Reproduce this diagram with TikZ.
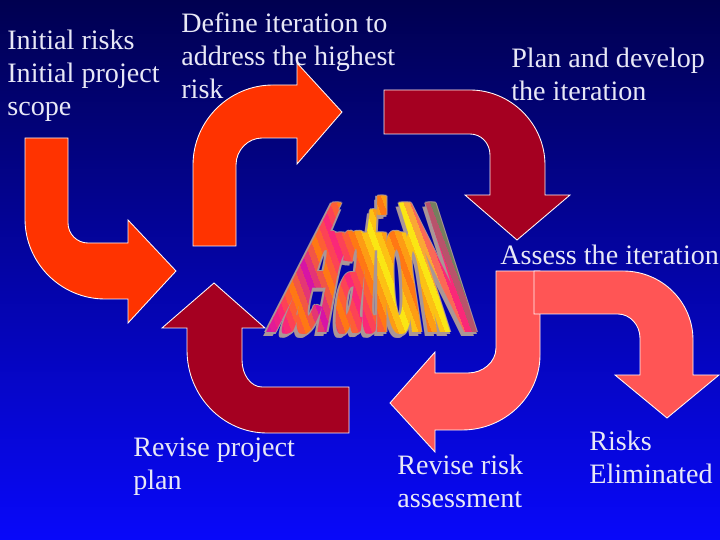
\documentclass[tikz,border=0pt]{standalone}
\usepackage{fontspec}
\setmainfont{Liberation Serif}
\newfontfamily\artfont{Liberation Sans}

\definecolor{bgtop}{RGB}{0,0,80}
\definecolor{bgbottom}{RGB}{8,8,250}
\definecolor{redorange}{RGB}{255,51,0}
\definecolor{crimson}{RGB}{165,0,33}
\definecolor{salmon}{RGB}{255,85,85}
\definecolor{slidewhite}{RGB}{232,232,246}
\definecolor{artshadow}{RGB}{170,150,150}
\definecolor{artmagenta}{RGB}{215,20,165}
\definecolor{artpink}{RGB}{250,40,120}
\definecolor{artorange}{RGB}{255,120,20}
\definecolor{artyellow}{RGB}{250,230,20}
\definecolor{artgreen}{RGB}{50,170,80}
\definecolor{artblue}{RGB}{60,60,220}

\tikzset{
  slidetext/.style={anchor=north west, inner sep=0pt, align=left,
    text=slidewhite, font=\fontsize{16}{18.8}\selectfont},
  bentarrow/.style={draw=white!85!pink, line width=0.5pt},
  artglyph/.style={anchor=base, inner sep=0pt, yscale=10.7,
    font=\fontsize{10}{12}\artfont\bfseries}
}

% word art letters: x/slant/xscale/letter
\newcommand\artglyphs{271/0.51/2.6/I, 285/0.42/2.6/t, 304/0.27/2.6/e,
  325/0.19/2.6/r, 347/0.12/2.6/a, 368/0.05/2.6/t, 382/0.0/2.6/i,
  401/-0.05/2.6/o, 425/-0.15/2.6/n, 459/-0.32/3.3/N}

% the letters of the word art, in one colour
\newcommand\artword[1]{%
  \foreach \x/\s/\w/\c in \artglyphs
    \foreach \e in {-0.8,0,0.8}
      \node[xshift=\e pt, xslant=\s, xscale=\w, artglyph, text=#1] at (\x,333) {\c};}

\begin{document}
\begin{tikzpicture}[x=0.02cm, y=-0.02cm]
  \useasboundingbox (0,0) rectangle (720,540);

  % Background
  \shade[top color=bgtop, bottom color=bgbottom] (0,0) rectangle (720,540);

  % Step texts
  \node[slidetext] (initial) at (7,30) {Initial risks\\Initial project\\scope};
  \node[slidetext] (define) at (181,12) {Define iteration to\\address the highest\\risk};
  \node[slidetext] (plan) at (511,48) {Plan and develop\\the iteration};
  \node[slidetext] (assess) at (500,245) {Assess the iteration};
  \node[slidetext] (reviseplan) at (133,438) {Revise project\\plan};
  \node[slidetext] (reviserisk) at (397,455) {Revise risk\\assessment};
  \node[slidetext] (risks) at (589,431) {Risks\\Eliminated};

  % Bent arrows
  \filldraw[bentarrow, fill=redorange] (25,138) -- (25,219)
    .. controls (25,263) and (61,299) .. (105,299) -- (128,299) -- (128,323)
    -- (176,271) -- (128,220) -- (128,243) -- (88,243)
    .. controls (77,243) and (68,234) .. (68,223) -- (68,138) -- cycle;
  \filldraw[bentarrow, fill=redorange] (193,246) -- (193,165)
    .. controls (193,121) and (229,85) .. (273,85) -- (297,85) -- (297,63)
    -- (342,112) -- (297,164) -- (297,138) -- (262,138)
    .. controls (248,138) and (236,150) .. (236,165) -- (236,246) -- cycle;
  \filldraw[bentarrow, fill=crimson] (384,90) -- (470,90)
    .. controls (511,90) and (545,124) .. (545,165) -- (545,195) -- (570,195)
    -- (517,240) -- (465,195) -- (490,195) -- (490,155)
    .. controls (490,143) and (481,134) .. (470,134) -- (384,134) -- cycle;
  \filldraw[bentarrow, fill=crimson] (349,387) -- (262,387)
    .. controls (251,387) and (242,375) .. (242,360) -- (242,328) -- (265,328)
    -- (214,283) -- (162,328) -- (187,328) -- (187,350)
    .. controls (187,396) and (223,433) .. (267,433) -- (349,433) -- cycle;
  \filldraw[bentarrow, fill=salmon] (496,271) -- (496,348)
    .. controls (496,362) and (483,373) .. (468,373) -- (435,373) -- (435,352)
    -- (390,403) -- (435,452) -- (435,430) -- (462,430)
    .. controls (505,430) and (540,396) .. (540,355) -- (540,271) -- cycle;
  \filldraw[bentarrow, fill=salmon] (534,271) -- (623,271)
    .. controls (662,271) and (693,302) .. (693,340) -- (693,375) -- (719,375)
    -- (667,418) -- (615,375) -- (640,375) -- (640,338)
    .. controls (640,325) and (630,314) .. (618,314) -- (534,314) -- cycle;

  % Word art: outline and shadow
  \foreach \dx/\dy in {-3/3, -1.5/0, 1.5/0, 0/-1.5, 0/1.5}
    {\begin{scope}[shift={(\dx,\dy)}]
      \artword{artshadow}
    \end{scope}}
  % rainbow bands clipped over the letters
  \foreach \ba/\ca/\cb in {190/artmagenta/artmagenta, 210/artmagenta/artpink,
      230/artpink/artorange, 250/artorange/artmagenta, 270/artmagenta/artorange,
      290/artorange/artpink, 310/artpink/artorange, 330/artorange/artyellow,
      350/artyellow/artorange, 370/artorange/artyellow, 390/artyellow/artpink,
      410/artpink/artgreen, 430/artgreen/artblue, 450/artblue/artmagenta,
      470/artmagenta/artpink, 490/artpink/artyellow}
    \foreach \m in {0,1,2}
      {\pgfmathsetmacro\bl{\ba+20*\m/3}
       \pgfmathtruncatemacro\pc{100-33*\m}
       \begin{scope}
         \clip (\bl,185) -- ++(7.2,0) -- ++(60,160) -- ++(-7.2,0) -- cycle;
         \artword{\ca!\pc!\cb}
       \end{scope}}
\end{tikzpicture}
\end{document}
